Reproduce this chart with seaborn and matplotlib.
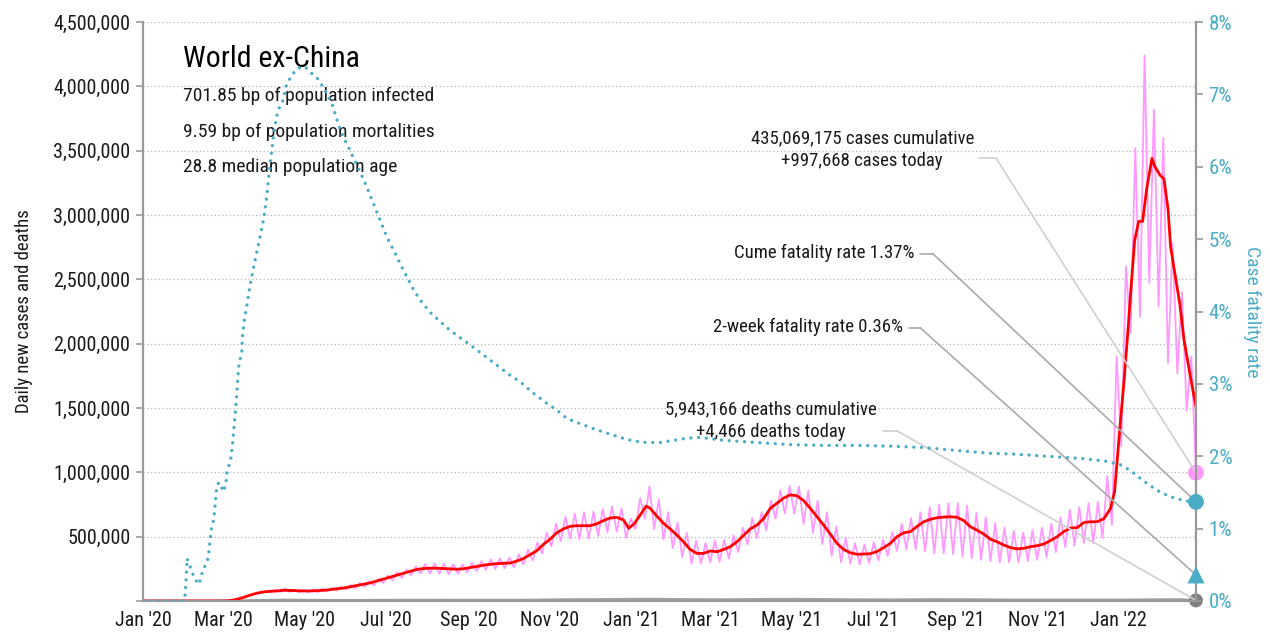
import numpy as np
import pandas as pd
import matplotlib
matplotlib.use("Agg")
import matplotlib.pyplot as plt
import matplotlib.dates as mdates
from matplotlib.ticker import FuncFormatter, MultipleLocator
from matplotlib import font_manager
import seaborn as sns

# ---------------- data ----------------
BASE = "2020-01-01"
LAST_DAY = "2022-02-28"

# daily new cases (millions), sampled twice a week (weekly low / weekly high), ending on LAST_DAY
cases_daily = [
    0.001, 0.002, 0.003, 0.006, 0.008, 0.014, 0.024, 0.036, 0.048, 0.062,
    0.064, 0.076, 0.068, 0.085, 0.072, 0.098, 0.070, 0.090, 0.068, 0.088,
    0.068, 0.090, 0.070, 0.094, 0.074, 0.102, 0.080, 0.112, 0.088, 0.124,
    0.098, 0.140, 0.110, 0.155, 0.120, 0.172, 0.140, 0.198, 0.160, 0.222,
    0.180, 0.245, 0.200, 0.268, 0.215, 0.288, 0.215, 0.292, 0.212, 0.290,
    0.208, 0.286, 0.212, 0.284, 0.222, 0.296, 0.232, 0.310, 0.242, 0.322,
    0.250, 0.332, 0.254, 0.338, 0.262, 0.362, 0.285, 0.400, 0.315, 0.455,
    0.370, 0.530, 0.425, 0.600, 0.465, 0.655, 0.485, 0.680, 0.480, 0.690,
    0.485, 0.695, 0.505, 0.715, 0.535, 0.735, 0.540, 0.720, 0.490, 0.640,
    0.560, 0.800, 0.640, 0.890, 0.560, 0.790, 0.480, 0.690, 0.410, 0.610,
    0.340, 0.530, 0.290, 0.470, 0.290, 0.450, 0.300, 0.470, 0.305, 0.475,
    0.330, 0.510, 0.380, 0.570, 0.440, 0.645, 0.490, 0.690, 0.550, 0.780,
    0.640, 0.860, 0.680, 0.895, 0.680, 0.890, 0.600, 0.860, 0.530, 0.780,
    0.440, 0.690, 0.350, 0.580, 0.300, 0.490, 0.290, 0.450, 0.285, 0.440,
    0.295, 0.455, 0.315, 0.475, 0.350, 0.535, 0.390, 0.600, 0.400, 0.645,
    0.400, 0.690, 0.385, 0.730, 0.370, 0.750, 0.370, 0.760, 0.365, 0.760,
    0.345, 0.740, 0.330, 0.685, 0.320, 0.650, 0.310, 0.605, 0.300, 0.570,
    0.300, 0.545, 0.300, 0.530, 0.310, 0.550, 0.320, 0.570, 0.340, 0.600,
    0.380, 0.650, 0.420, 0.710, 0.430, 0.730, 0.450, 0.760, 0.450, 0.770,
    0.490, 0.970, 0.590, 1.900, 1.200, 2.600, 2.080, 3.520, 2.210, 4.240,
    2.470, 3.820, 2.290, 3.600, 1.850, 2.780, 1.770, 2.400, 1.480, 1.900,
    0.998,
]

# 7-day average of new cases (millions), day offset from BASE
avg_days = [0, 60, 65, 70, 75, 80, 85, 90, 95, 100, 105, 110, 115, 120, 125, 130, 135, 140,
            145, 150, 155, 160, 165, 170, 175, 180, 185, 190, 195, 200, 205, 210, 215, 220,
            225, 230, 235, 240, 245, 250, 255, 260, 265, 270, 275, 280, 285, 290, 295, 300,
            305, 310, 315, 320, 325, 330, 335, 340, 345, 350, 355, 360, 364, 368, 372, 377,
            380, 385, 390, 395, 400, 405, 410, 415, 420, 425, 430, 435, 440, 445, 450, 455,
            460, 465, 470, 475, 480, 485, 490, 495, 500, 505, 510, 515, 520, 525, 530, 535,
            540, 545, 550, 555, 560, 565, 570, 575, 580, 585, 590, 595, 600, 605, 610, 615,
            620, 625, 630, 635, 640, 645, 650, 655, 660, 665, 670, 675, 680, 685, 690, 695,
            700, 705, 710, 715, 720, 725, 728, 730, 732, 735, 738, 740, 743, 746, 749, 752,
            756, 758, 762, 765, 768, 770, 774, 777, 780, 784, 789]
avg_cases = [0, 0.0, 0.003, 0.012, 0.027, 0.045, 0.06, 0.07, 0.075, 0.078, 0.083, 0.082, 0.08,
             0.078, 0.078, 0.08, 0.083, 0.088, 0.095, 0.10, 0.11, 0.12, 0.13, 0.14, 0.155, 0.17,
             0.185, 0.20, 0.215, 0.23, 0.245, 0.252, 0.255, 0.255, 0.252, 0.25, 0.247, 0.25,
             0.26, 0.268, 0.278, 0.285, 0.29, 0.293, 0.295, 0.31, 0.33, 0.36, 0.39, 0.44, 0.48,
             0.53, 0.56, 0.58, 0.585, 0.585, 0.585, 0.60, 0.625, 0.645, 0.65, 0.63, 0.565, 0.60,
             0.66, 0.738, 0.72, 0.66, 0.604, 0.56, 0.513, 0.46, 0.40, 0.37, 0.37, 0.389, 0.383,
             0.40, 0.422, 0.46, 0.51, 0.56, 0.59, 0.64, 0.72, 0.76, 0.80, 0.825, 0.818, 0.78,
             0.72, 0.655, 0.59, 0.52, 0.448, 0.40, 0.375, 0.363, 0.365, 0.368, 0.385, 0.415,
             0.448, 0.50, 0.53, 0.539, 0.58, 0.616, 0.635, 0.647, 0.652, 0.655, 0.65, 0.625,
             0.577, 0.55, 0.52, 0.48, 0.46, 0.435, 0.415, 0.405, 0.41, 0.422, 0.43, 0.443, 0.47,
             0.50, 0.54, 0.567, 0.57, 0.61, 0.616, 0.616, 0.64, 0.72, 0.85, 1.1, 1.35, 1.7, 2.1,
             2.39, 2.8, 2.95, 2.95, 3.2, 3.44, 3.38, 3.31, 3.28, 3.05, 2.75, 2.49, 2.3, 2.03,
             1.79, 1.51]

# case fatality rate (%), day offset from BASE
cfr_days = [0, 30, 31.5, 32.5, 33, 35, 37, 39, 42, 44, 46, 47.7, 49, 50, 51.5, 53, 54, 55, 56.5,
            58, 60, 62, 63, 65.7, 67, 68, 69, 70, 71, 72, 74, 74.5, 75.7, 77.7, 80, 84, 87.7,
            90.7, 92.7, 94.7, 96.5, 97.7, 100, 102.7, 105, 107.7, 111.5, 115, 119, 121.5, 125,
            130, 134, 137.7, 142, 146.5, 150, 154, 157.7, 162.7, 167.7, 172.7, 177.7, 182.7,
            187.7, 192.7, 197.7, 202.7, 207.7, 215, 230, 245, 260, 275, 282.6, 292.6, 302.7,
            310, 317.7, 327.6, 337.6, 347.6, 357.6, 367.6, 377.6, 387.6, 397.6, 407.6, 417.6,
            435, 460, 485, 510, 535, 560, 585, 610, 635, 652.5, 677.5, 702.5, 722.5, 732.5,
            740, 747.5, 755, 762.5, 770, 777.5, 787.5, 789]
cfr_pct = [0, 0.0, 0.08, 0.35, 0.59, 0.49, 0.39, 0.30, 0.23, 0.37, 0.47, 0.52, 0.61, 0.80, 1.03,
           1.12, 1.33, 1.53, 1.63, 1.63, 1.51, 1.60, 1.79, 1.95, 2.15, 2.36, 2.57, 2.78, 3.07,
           3.28, 3.44, 3.65, 3.86, 4.07, 4.34, 4.71, 5.03, 5.31, 5.59, 5.95, 6.23, 6.41, 6.69,
           6.85, 6.92, 7.15, 7.26, 7.35, 7.38, 7.38, 7.31, 7.24, 7.13, 7.01, 6.85, 6.58, 6.41,
           6.27, 6.12, 5.93, 5.72, 5.49, 5.26, 5.03, 4.85, 4.66, 4.48, 4.30, 4.16, 3.99, 3.74,
           3.54, 3.33, 3.12, 3.03, 2.87, 2.73, 2.64, 2.52, 2.45, 2.38, 2.32, 2.26, 2.21, 2.19,
           2.19, 2.22, 2.25, 2.26, 2.22, 2.19, 2.16, 2.15, 2.15, 2.14, 2.12, 2.08, 2.04, 2.03,
           2.00, 1.97, 1.93, 1.88, 1.80, 1.69, 1.59, 1.50, 1.44, 1.40, 1.36, 1.37]

# daily deaths, 7-day average (thousands), monthly
death_days = [0, 45, 74, 105, 135, 166, 196, 227, 258, 288, 319, 349, 380, 411, 439, 470, 500,
              531, 561, 592, 623, 653, 684, 714, 745, 776, 789]
deaths_k = [0, 0, 1.0, 6.5, 4.5, 4.5, 5.5, 5.8, 5.3, 5.8, 9.5, 11.0, 13.5, 10.0, 9.0, 12.5,
            12.0, 9.0, 8.0, 10.0, 9.0, 7.0, 7.0, 6.8, 7.5, 10.0, 4.466]

# latest-day values
cases_today = 997668
deaths_today = 4466
cume_cfr = 1.37
two_week_cfr = 0.36

title = "World ex-China"
subtitle_lines = ["701.85 bp of population infected",
                  "9.59 bp of population mortalities",
                  "28.8 median population age"]
cases_label = "435,069,175 cases cumulative\n+997,668 cases today"
cume_label = "Cume fatality rate 1.37%"
twoweek_label = "2-week fatality rate 0.36%"
deaths_label = "5,943,166 deaths cumulative\n+4,466 deaths today"

# ---------------- frames ----------------
base = pd.Timestamp(BASE)
end = pd.Timestamp(LAST_DAY)
df_daily = pd.DataFrame({
    "date": pd.date_range(end=end, periods=len(cases_daily), freq="84h"),
    "cases": np.array(cases_daily) * 1e6,
})
df_daily = pd.concat([pd.DataFrame({"date": [base], "cases": [0.0]}), df_daily], ignore_index=True)
df_avg = pd.DataFrame({"date": base + pd.to_timedelta(avg_days, unit="D"),
                       "cases": np.array(avg_cases) * 1e6})
df_cfr = pd.DataFrame({"date": base + pd.to_timedelta(cfr_days, unit="D"), "cfr": cfr_pct})
df_deaths = pd.DataFrame({"date": base + pd.to_timedelta(death_days, unit="D"),
                          "deaths": np.array(deaths_k) * 1e3})

# ---------------- style ----------------
sns.set_style("white")
installed = {f.name for f in font_manager.fontManager.ttflist}
candidates = ["Roboto Condensed", "DejaVu Sans Condensed", "Liberation Sans Narrow",
              "Open Sans Condensed", "Noto Sans Condensed", "Roboto", "DejaVu Sans"]
FONT = [f for f in candidates if f in installed] or ["DejaVu Sans"]
plt.rcParams["font.family"] = FONT

PINK = "#ff99ff"
RED = "#ff0000"
TEAL = "#4bacc6"
SPINE = "#999999"
TXT = "#1a1a1a"

fig = plt.figure(figsize=(12.7, 6.4), dpi=100)
ax = fig.add_axes([143 / 1270, 39 / 640, 1053 / 1270, 579 / 640])
ax2 = ax.twinx()

sns.lineplot(data=df_deaths, x="date", y="deaths", ax=ax, color="#a0a0a0", lw=2.2, zorder=2)
sns.lineplot(data=df_daily, x="date", y="cases", ax=ax, color=PINK, lw=1.3, zorder=3)
sns.lineplot(data=df_avg, x="date", y="cases", ax=ax, color=RED, lw=2.0, zorder=4)
sns.lineplot(data=df_cfr, x="date", y="cfr", ax=ax2, color=TEAL, lw=2.4,
             linestyle=(0, (0.01, 2.3)), dash_capstyle="round", zorder=3)

ax.set_xlim(base, end)
ax.set_ylim(0, 4.5e6)
ax2.set_ylim(0, 8)

ax.yaxis.set_major_locator(MultipleLocator(500000))
ax.yaxis.set_major_formatter(FuncFormatter(lambda v, p: "" if v == 0 else f"{int(v):,}"))
ax2.yaxis.set_major_locator(MultipleLocator(1))
ax2.yaxis.set_major_formatter(FuncFormatter(lambda v, p: f"{int(round(v))}%"))
ax.xaxis.set_major_locator(mdates.MonthLocator(bymonth=[1, 3, 5, 7, 9, 11]))
ax.xaxis.set_major_formatter(mdates.DateFormatter("%b '%y"))

ax.grid(False)
ax2.grid(False)
ax.yaxis.grid(True, color="#b5b5b5", linestyle=(0, (1, 2)), lw=0.9)
for a in (ax, ax2):
    a.spines["top"].set_visible(False)
    for s in ("left", "right", "bottom"):
        a.spines[s].set_color(SPINE)
        a.spines[s].set_linewidth(1.5)
ax.tick_params(axis="both", direction="out", length=5, width=1.2, color=SPINE,
               labelsize=14.5, labelcolor=TXT)
ax.tick_params(axis="x", pad=2)
ax.tick_params(axis="y", pad=4)
ax2.tick_params(axis="y", direction="out", length=5, width=1.2, color=SPINE,
                labelsize=15, labelcolor=TEAL, pad=4)
ax.set_xlabel("")
ax.set_ylabel("Daily new cases and deaths", fontsize=13.5, color=TXT, labelpad=15)
ax2.set_ylabel("Case fatality rate", fontsize=14, color=TEAL, rotation=270, labelpad=21)

# end markers
sns.scatterplot(x=[end], y=[cases_today], ax=ax, color=PINK, s=130, marker="o",
                edgecolor="none", clip_on=False, zorder=10)
sns.scatterplot(x=[end], y=[deaths_today], ax=ax, color="#808080", s=100, marker="o",
                edgecolor="none", clip_on=False, zorder=10)
sns.scatterplot(x=[end], y=[cume_cfr], ax=ax2, color=TEAL, s=130, marker="o",
                edgecolor="none", clip_on=False, zorder=10)
sns.scatterplot(x=[end], y=[two_week_cfr], ax=ax2, color=TEAL, s=150, marker="^",
                edgecolor="none", clip_on=False, zorder=10)

# title block
ax.text(0.038, 0.923, title, transform=ax.transAxes, fontsize=21.5, color="black", va="baseline")
for k, line in enumerate(subtitle_lines):
    ax.text(0.038, 0.8627 - k * 0.0605, line, transform=ax.transAxes, fontsize=14,
            color=TXT, va="baseline")

# callouts
end_num = mdates.date2num(end)
callouts = [
    (cases_label, 0.683, 0.78, "center", 0.794, 0.81, 0.765, "#d0d0d0", ax, cases_today),
    (cume_label, 0.733, 0.601, "right", 0.738, 0.750, 0.600, "#aaaaaa", ax2, cume_cfr),
    (twoweek_label, 0.722, 0.473, "right", 0.727, 0.738, 0.472, "#aaaaaa", ax2, two_week_cfr),
    (deaths_label, 0.596, 0.312, "center", 0.703, 0.716, 0.294, "#d0d0d0", ax, deaths_today),
]
for txt, tx, ty, ha, lx0, lx1, ly, col, tax, val in callouts:
    ax2.text(tx, ty, txt, transform=ax.transAxes, ha=ha, va="center", fontsize=13.5,
             color=TXT, linespacing=1.35, zorder=12)
    ax2.plot([lx0, lx1], [ly, ly], transform=ax.transAxes, color=col, lw=1.2, zorder=1)
    ax2.annotate("", xy=(end_num, val), xycoords=tax.transData,
                 xytext=(lx1, ly), textcoords=ax.transAxes, annotation_clip=False,
                 arrowprops=dict(arrowstyle="-", color=col, lw=1.2, shrinkA=0, shrinkB=0),
                 zorder=1)

fig.savefig("out.png", dpi=100)
